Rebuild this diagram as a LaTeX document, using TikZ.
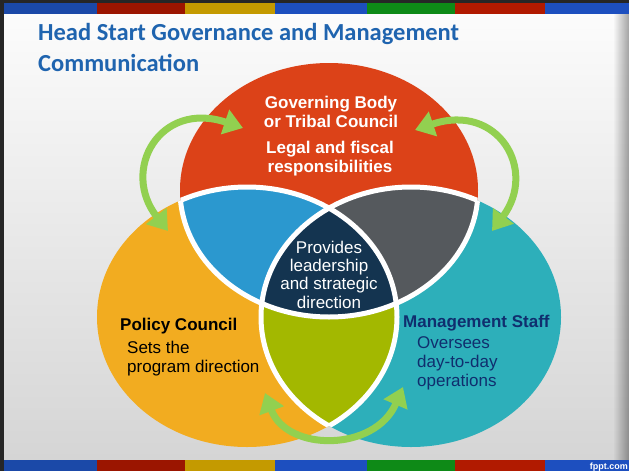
\documentclass[tikz,border=0pt]{standalone}
\usepackage{fontspec}
\setmainfont{Liberation Sans}
\newfontfamily\titlefont{Carlito}
\usetikzlibrary{arrows.meta,fadings}

\definecolor{bgtop}{RGB}{253,253,253}
\definecolor{bgbot}{RGB}{212,212,212}
\definecolor{stblue}{RGB}{27,73,168}
\definecolor{stred}{RGB}{155,21,0}
\definecolor{stgold}{RGB}{196,154,0}
\definecolor{stblueb}{RGB}{29,79,191}
\definecolor{stgreen}{RGB}{14,138,23}
\definecolor{stredb}{RGB}{177,26,0}
\definecolor{titleblue}{RGB}{31,100,175}
\definecolor{govred}{RGB}{220,66,24}
\definecolor{polyellow}{RGB}{242,172,32}
\definecolor{mgmtteal}{RGB}{45,175,186}
\definecolor{ovblue}{RGB}{43,152,207}
\definecolor{ovgrey}{RGB}{85,89,93}
\definecolor{ovolive}{RGB}{163,184,0}
\definecolor{ovnavy}{RGB}{20,52,80}
\definecolor{arrowgreen}{RGB}{146,208,80}
\definecolor{mgmttext}{RGB}{16,46,110}

\tikzfading[name=edgefade, left color=transparent!100, right color=transparent!0]

% the three overlapping ellipses
\def\govpath{(329,190) ellipse [x radius=149pt, y radius=127pt]}
\def\polpath{(247,317) ellipse [x radius=150pt, y radius=130pt]}
\def\mgmtpath{(411,317) ellipse [x radius=150pt, y radius=130pt]}

\begin{document}
\begin{tikzpicture}[x=1pt,y=-1pt,
  seam/.style={draw=white, line width=5pt},
  greenarrow/.style={draw=arrowgreen, line width=7pt,
    {Triangle[length=19pt,width=25pt]}-{Triangle[length=19pt,width=25pt]}},
  headtext/.style={font=\fontsize{17}{18.5}\selectfont\bfseries, text=white, align=center, anchor=base},
  centertext/.style={font=\fontsize{17}{18.3}\selectfont, text=white, align=center, anchor=base},
  sidehead/.style={font=\fontsize{17}{19}\selectfont\bfseries, anchor=base west, inner sep=0pt},
  sidetext/.style={font=\fontsize{17}{19}\selectfont, anchor=base west, align=left, inner sep=0pt},
  titletext/.style={anchor=base west, inner sep=0pt, text=titleblue,
    font=\titlefont\fontsize{24.5}{29}\selectfont\bfseries}]
\useasboundingbox (0,0) rectangle (629,471);

% slide background
\shade[top color=bgtop, bottom color=bgbot] (0,0) rectangle (629,471);
\fill[black, path fading=edgefade, fill opacity=0.35] (613,13) rectangle (629,460);
\fill[black!85] (0,0) rectangle (629,3);
\fill[black!85] (0,0) rectangle (4,471);

% coloured stripes at top and bottom
\foreach \xa/\xb/\c in {4/97/stblue, 97/185/stred, 185/275/stgold, 275/367/stblueb,
                        367/455/stgreen, 455/545/stredb, 545/629/stblueb}{
  \fill[\c] (\xa,3) rectangle (\xb,14);
  \fill[\c] (\xa,460) rectangle (\xb,471);
}
\node[anchor=base east, inner sep=1pt, text=white, font=\fontsize{9}{10}\selectfont\bfseries]
  (site) at (629,469) {fppt.com};

% title
\node[titletext] (title1) at (38,40) {Head Start Governance and Management};
\node[titletext] (title2) at (38,71) {Communication};

% ellipses and their overlaps
\fill[polyellow] \polpath;
\fill[mgmtteal] \mgmtpath;
\fill[govred] \govpath;
\begin{scope}
  \clip \polpath; \fill[ovolive] \mgmtpath;
\end{scope}
\begin{scope}
  \clip \govpath;
  \fill[ovblue] \polpath;
  \fill[ovgrey] \mgmtpath;
  \clip \polpath;
  \fill[ovnavy] \mgmtpath;
\end{scope}

% white seams inside the union
\begin{scope}
  \clip \polpath \mgmtpath; \path[seam] \govpath;
\end{scope}
\begin{scope}
  \clip \govpath \mgmtpath; \path[seam] \polpath;
\end{scope}
\begin{scope}
  \clip \govpath \polpath; \path[seam] \mgmtpath;
\end{scope}

% arrow end points
\coordinate (govL) at (243,128);
\coordinate (polT) at (168,231);
\coordinate (govR) at (415,130);
\coordinate (mgmtT) at (492,231);
\coordinate (polB) at (265,393);
\coordinate (mgmtB) at (403,387);

\draw[greenarrow] (govL) .. controls (160,100) and (120,170) .. (polT);
\draw[greenarrow] (govR) .. controls (498,102) and (538,170) .. (mgmtT);
\draw[greenarrow] (polB) .. controls (287,452) and (375,452) .. (mgmtB);

% texts (multi-line nodes sit on the baseline of their last line)
\node[headtext] (gov) at (331,127) {Governing Body\\or Tribal Council};
\node[headtext] (govtask) at (330,172) {Legal and fiscal\\responsibilities};
\node[centertext] (core) at (329,308) {Provides\\leadership\\and strategic\\direction};
\node[sidehead] (pol) at (120,330) {Policy Council};
\node[sidetext] (poltask) at (127,372) {Sets the\\program direction};
\node[sidehead, text=mgmttext] (mgmt) at (403,327) {Management Staff};
\node[sidetext, text=mgmttext] (mgmttask) at (417,386) {Oversees\\day-to-day\\operations};
\end{tikzpicture}
\end{document}
